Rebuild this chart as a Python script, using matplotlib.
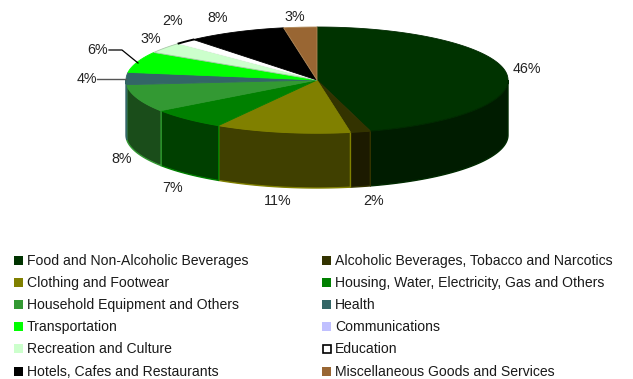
import numpy as np
import matplotlib
matplotlib.use('Agg')
import matplotlib.pyplot as plt
from matplotlib.patches import Rectangle

plt.rcParams['font.family'] = ['Liberation Sans', 'DejaVu Sans']

# legend order, column by column across each row
categories = ['Food and Non-Alcoholic Beverages', 'Alcoholic Beverages, Tobacco and Narcotics',
              'Clothing and Footwear', 'Housing, Water, Electricity, Gas and Others',
              'Household Equipment and Others', 'Health',
              'Transportation', 'Communications',
              'Recreation and Culture', 'Education',
              'Hotels, Cafes and Restaurants', 'Miscellaneous Goods and Services']
shares = [45.5, 1.7, 11.4, 6.6, 8.4, 3.7, 6.4, 0.0, 3.4, 1.7, 8.4, 2.8]

top_colors = ['#003300', '#333300', '#808000', '#008000', '#339933', '#336666',
              '#00ff00', '#c0c0ff', '#ccffcc', '#ffffff', '#000000', '#996633']
side_colors = ['#001c00', '#1c1a00', '#404000', '#004000', '#1a4d1a', '#1a3333',
               '#008000', '#606080', '#668066', '#808080', '#000000', '#4d331a']
edge_colors = ['#002a00', '#333300', '#808000', '#008000', '#339933', '#336666',
               '#00ff00', '#c0c0ff', '#a8c8a8', '#ffffff', '#000000', '#b08858']

# where each percentage label sits, in figure pixels (None = no label)
label_pos = [(527, 69), (374, 201), (278, 201), (173, 188), (122, 159), (87, 79),
             (98, 50), None, (151, 39), (173, 21), (218, 18), (295, 17)]

cx, cy, rx, ry, depth = 317, 80, 191, 53, 55


def rim(t0, t1, drop=0):
    # elliptical arc, angles in degrees clockwise from twelve o'clock
    t = np.radians(np.linspace(t0, t1, max(int(abs(t1 - t0) * 2), 2)))
    return cx + rx * np.sin(t), cy - ry * np.cos(t) + drop


fig = plt.figure(figsize=(6.33, 3.79), dpi=100)
ax = fig.add_axes([0, 0, 1, 1])
ax.set_xlim(0, 633)
ax.set_ylim(379, 0)
ax.axis('off')

ends = np.cumsum(shares) * 3.6
starts = ends - np.array(shares) * 3.6

# side wall, only the front half of the rim shows
for i in range(len(shares)):
    t0, t1 = max(starts[i], 90), min(ends[i], 270)
    if t1 <= t0:
        continue
    ux, uy = rim(t0, t1)
    lx, ly = rim(t1, t0, depth)
    ax.fill(np.r_[ux, lx], np.r_[uy, ly], facecolor=side_colors[i],
            edgecolor=edge_colors[i], linewidth=1.0, zorder=2)

# top face
for i in range(len(shares)):
    if shares[i] == 0:
        continue
    ux, uy = rim(starts[i], ends[i])
    ax.fill(np.r_[cx, ux], np.r_[cy, uy], facecolor=top_colors[i],
            edgecolor=edge_colors[i], linewidth=0.6, zorder=3)

# the white Education slice only keeps a dark outer rim
edu = categories.index('Education')
ux, uy = rim(starts[edu], ends[edu])
ax.plot(ux, uy, color='black', lw=1.4, zorder=4)

# leader lines for the two crowded labels
ax.plot([109, 122, 138], [50, 50, 63], color='black', lw=0.9, zorder=4)
ax.plot([97, 126], [79, 79], color='#555555', lw=1.0, zorder=4)

for share, pos in zip(shares, label_pos):
    if pos is None:
        continue
    ax.text(pos[0], pos[1], f'{share:.0f}%', fontsize=10.3, color='#222222',
            ha='center', va='center', zorder=5)

# legend, two columns
rows = [261, 283, 305, 327, 349, 372]
for i, name in enumerate(categories):
    col = i % 2
    y = rows[i // 2]
    box_x = 14 if col == 0 else 322
    if name == 'Education':
        box = Rectangle((box_x + 0.5, y - 4.5), 8, 8, facecolor='white',
                        edgecolor='black', linewidth=1.2)
    else:
        box = Rectangle((box_x, y - 5), 9, 9, facecolor=top_colors[i], edgecolor='none')
    ax.add_patch(box)
    ax.text(box_x + 13, y, name, fontsize=10.1, color='#1a1a1a', ha='left', va='center')

fig.savefig('out.png', dpi=100, facecolor='white')
